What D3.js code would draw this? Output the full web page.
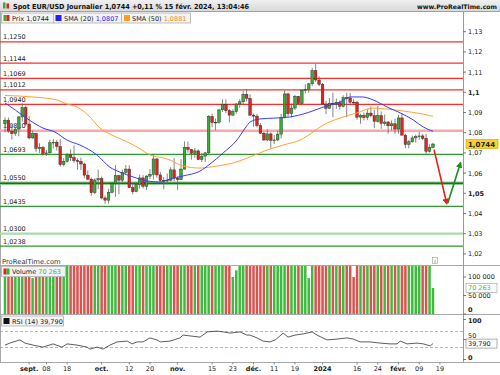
<!DOCTYPE html>
<html>
<head>
<meta charset="utf-8">
<script src="https://cdnjs.cloudflare.com/ajax/libs/d3/7.8.5/d3.min.js"></script>
<style>
html, body { margin: 0; padding: 0; background: #fff; }
svg { display: block; font-family: "DejaVu Sans", sans-serif; }
</style>
</head>
<body>
<div id="chart"></div>
<script>
var width = 500,
    height = 375,
    axis_x = 463;

// daily candles, 23 aug 2023 -> 15 feb 2024 (no 25/12, no 01/01)
var start_day = "2023-08-23",
    holidays = ["2023-12-25", "2024-01-01"];

var open = [1.0846,1.0862,1.0808,1.0796,1.0818,1.0878,1.0924,1.0843,1.0774,1.0796,
    1.0722,1.0726,1.0697,1.0700,1.0750,1.0753,1.0732,1.0642,1.0658,1.0690,
    1.0677,1.0662,1.0658,1.0645,1.0590,1.0570,1.0503,1.0566,1.0573,1.0477,
    1.0466,1.0505,1.0549,1.0587,1.0565,1.0604,1.0620,1.0528,1.0508,1.0544,
    1.0576,1.0535,1.0585,1.0594,1.0670,1.0591,1.0564,1.0563,1.0565,1.0616,
    1.0575,1.0568,1.0620,1.0727,1.0717,1.0698,1.0710,1.0667,1.0684,1.0700,
    1.0880,1.0850,1.0852,1.0913,1.0940,1.0909,1.0887,1.0904,1.0942,1.0953,
    1.0990,1.0970,1.0887,1.0882,1.0835,1.0797,1.0764,1.0794,1.0762,1.0764,
    1.0793,1.0876,1.0992,1.0895,1.0922,1.0980,1.0944,1.1010,1.1013,1.1042,
    1.1107,1.1061,1.1039,1.0942,1.0921,1.0946,1.0942,1.0950,1.0931,1.0973,
    1.0972,1.0951,1.0950,1.0877,1.0885,1.0875,1.0897,1.0884,1.0856,1.0884,
    1.0846,1.0853,1.0834,1.0844,1.0818,1.0873,1.0788,1.0742,1.0755,1.0774,
    1.0781,1.0784,1.0772,1.0708,1.0727];

var high = [1.0876,1.0875,1.0840,1.0830,1.0882,1.0945,1.0933,1.0882,1.0810,1.0800,
    1.0748,1.0735,1.0715,1.0767,1.0769,1.0765,1.0768,1.0674,1.0699,1.0718,
    1.0737,1.0673,1.0676,1.0652,1.0613,1.0578,1.0574,1.0617,1.0583,1.0489,
    1.0523,1.0555,1.0640,1.0592,1.0617,1.0640,1.0639,1.0547,1.0554,1.0592,
    1.0590,1.0590,1.0620,1.0695,1.0675,1.0606,1.0580,1.0598,1.0629,1.0675,
    1.0582,1.0669,1.0757,1.0756,1.0720,1.0724,1.0717,1.0700,1.0705,1.0887,
    1.0895,1.0870,1.0917,1.0965,1.0965,1.0917,1.0916,1.0947,1.0966,1.1007,
    1.1017,1.0990,1.0895,1.0893,1.0848,1.0805,1.0817,1.0802,1.0789,1.0812,
    1.0893,1.1009,1.0998,1.0945,1.0988,1.0982,1.1012,1.1040,1.1045,1.1121,
    1.1139,1.1079,1.1046,1.0958,1.0971,1.0998,1.0969,1.0960,1.0985,1.0998,
    1.0997,1.0967,1.0958,1.0894,1.0900,1.0915,1.0931,1.0915,1.0932,1.0905,
    1.0890,1.0858,1.0861,1.0870,1.0888,1.0897,1.0794,1.0765,1.0786,1.0791,
    1.0805,1.0793,1.0794,1.0742,1.0750];

var low = [1.0802,1.0800,1.0766,1.0784,1.0782,1.0855,1.0835,1.0767,1.0770,1.0705,
    1.0700,1.0686,1.0685,1.0698,1.0722,1.0712,1.0632,1.0633,1.0653,1.0660,
    1.0651,1.0616,1.0615,1.0575,1.0565,1.0488,1.0496,1.0520,1.0470,1.0448,
    1.0449,1.0500,1.0483,1.0495,1.0555,1.0594,1.0526,1.0495,1.0505,1.0523,
    1.0524,1.0517,1.0570,1.0568,1.0577,1.0555,1.0520,1.0545,1.0558,1.0560,
    1.0516,1.0566,1.0617,1.0701,1.0666,1.0676,1.0664,1.0655,1.0656,1.0695,
    1.0827,1.0812,1.0844,1.0903,1.0897,1.0851,1.0883,1.0894,1.0923,1.0938,
    1.0955,1.0884,1.0830,1.0826,1.0793,1.0760,1.0758,1.0723,1.0743,1.0758,
    1.0771,1.0870,1.0880,1.0877,1.0912,1.0941,1.0936,1.0995,1.0998,1.1030,
    1.1051,1.1030,1.0939,1.0892,1.0919,1.0877,1.0918,1.0915,1.0925,1.0876,
    1.0941,1.0938,1.0864,1.0844,1.0861,1.0862,1.0876,1.0822,1.0850,1.0819,
    1.0834,1.0795,1.0812,1.0794,1.0795,1.0787,1.0723,1.0722,1.0751,1.0751,
    1.0765,1.0763,1.0695,1.0701,1.0722];

var close = [1.0862,1.0808,1.0796,1.0818,1.0878,1.0924,1.0843,1.0774,1.0796,1.0722,
    1.0726,1.0697,1.0700,1.0750,1.0753,1.0732,1.0642,1.0658,1.0690,1.0677,
    1.0662,1.0658,1.0645,1.0590,1.0570,1.0503,1.0566,1.0573,1.0477,1.0466,
    1.0505,1.0549,1.0587,1.0565,1.0604,1.0620,1.0528,1.0508,1.0544,1.0576,
    1.0535,1.0585,1.0594,1.0670,1.0591,1.0564,1.0563,1.0565,1.0616,1.0575,
    1.0568,1.0620,1.0727,1.0717,1.0698,1.0710,1.0667,1.0684,1.0700,1.0880,
    1.0850,1.0852,1.0913,1.0940,1.0909,1.0887,1.0904,1.0942,1.0953,1.0990,
    1.0970,1.0887,1.0882,1.0835,1.0797,1.0764,1.0794,1.0762,1.0764,1.0793,
    1.0876,1.0992,1.0895,1.0922,1.0980,1.0944,1.1010,1.1013,1.1042,1.1107,
    1.1061,1.1039,1.0942,1.0921,1.0946,1.0942,1.0950,1.0931,1.0973,1.0972,
    1.0951,1.0950,1.0877,1.0885,1.0875,1.0897,1.0884,1.0856,1.0884,1.0846,
    1.0853,1.0834,1.0844,1.0818,1.0873,1.0788,1.0742,1.0755,1.0774,1.0781,
    1.0784,1.0772,1.0708,1.0727,1.0744];

// volume in thousands (most bars run past the top of the panel)
var volume = [172,181,165,158,176,188,195,190,97,184,
    170,176,162,168,171,166,205,183,160,158,
    172,177,168,170,182,195,187,178,190,193,
    186,181,210,171,168,162,189,176,164,170,
    174,180,169,177,186,172,175,168,171,183,
    178,192,199,173,167,170,166,171,160,214,
    190,177,185,173,179,171,100,118,166,174,
    180,186,175,170,174,169,172,188,163,167,
    180,203,192,171,169,163,175,152,97,160,
    174,168,189,182,176,190,168,170,173,181,
    169,100,178,174,171,175,168,172,176,170,
    183,167,171,176,185,193,174,165,170,168,
    172,166,188,171,70.263];

// moving averages and RSI: [day index, value]
var sma20 = [[0,1.0947],[3,1.0912],[7,1.0863],[11,1.0823],[14.5,1.0803],[18,1.0763],[21.7,1.0739],
    [26.7,1.0689],[30.4,1.0629],[33.3,1.0605],[37.1,1.0581],[41.2,1.0561],[44.9,1.0556],[47.8,1.0571],
    [51.6,1.0586],[56.5,1.0610],[59.4,1.0645],[63.2,1.0700],[67.2,1.0764],[69.6,1.0823],[71,1.0853],
    [73.9,1.0868],[78.8,1.0873],[82.6,1.0878],[87.5,1.0898],[92.2,1.0927],[97.1,1.0952],[100,1.0977],
    [103.5,1.0977],[106.7,1.0962],[110.7,1.0927],[114.5,1.0898],[118.3,1.0863],[121.2,1.0828],[124,1.0807]];

var sma50 = [[0,1.0984],[8.1,1.0977],[15,1.0962],[18,1.0942],[20.9,1.0927],[24.6,1.0878],[27.5,1.0823],
    [30.4,1.0793],[34.2,1.0764],[38.3,1.0729],[42,1.0690],[45.8,1.0675],[47.8,1.0665],[51.6,1.0635],
    [56.5,1.0625],[61.4,1.0635],[66.1,1.0650],[71,1.0680],[75.9,1.0714],[80.6,1.0739],[85.5,1.0764],
    [87.5,1.0783],[92.2,1.0838],[97.1,1.0873],[102,1.0898],[106.7,1.0922],[110.7,1.0917],[115.4,1.0907],
    [121.2,1.0892],[124,1.0881]];

var rsi = [[0,36],[1.4,41],[4.3,49],[5.8,41],[8.1,36],[11,31],[13.9,39],[16.5,31],[18,39],[20.9,36],
    [23.8,31],[24.6,26],[26.7,31],[28.4,26],[30.4,36],[32.5,44],[35.4,46],[36.8,39],[38.3,44],[40,44],
    [42,54],[44,49],[45,44],[47.8,46],[50.7,54],[51.6,61],[53.6,59],[56.5,56],[58.6,69],[61.4,71],
    [63.2,69],[65.2,66],[68.1,69],[70.1,61],[71,61],[73,54],[74.8,46],[76.8,44],[78.3,49],[80.6,66],
    [82,56],[84,61],[86.4,64],[89,69],[90.4,61],[93.3,49],[96.2,51],[99.1,54],[100.9,51],[102.9,44],
    [105.8,44],[108.7,41],[111.6,39],[113.6,39],[114.5,46],[116.5,39],[119.4,41],[121.2,39],[123.2,34],[124,39.79]];

// drawn support / resistance levels
var resistances = [1.1250, 1.1144, 1.1069, 1.1012, 1.0940],
    weak_resistances = [1.0810],
    supports = [1.0693, 1.0435, 1.0238],
    major_supports = [1.0550],
    weak_supports = [1.0300];

// scenario arrows: [day index, price]
var arrow_down = [[124.3, 1.0716], [128, 1.0448]],
    arrow_up = [[128.3, 1.0452], [132, 1.0652]];

var price_ticks = [1.02, 1.03, 1.04, 1.05, 1.06, 1.07, 1.08, 1.09, 1.10, 1.11, 1.12, 1.13],
    volume_ticks = [0, 50000, 100000],
    rsi_ticks = [0, 50, 100],
    rsi_bands = [30, 70];

var date_ticks = [
    ["2023-09-01", "sept.", true], ["2023-09-08", "08"], ["2023-09-18", "18"],
    ["2023-10-02", "oct.", true], ["2023-10-12", "12"], ["2023-10-20", "20"],
    ["2023-11-01", "nov.", true], ["2023-11-15", "15"], ["2023-11-23", "23"],
    ["2023-12-01", "déc.", true], ["2023-12-11", "11"], ["2023-12-19", "19"],
    ["2024-01-02", "2024", true], ["2024-01-16", "16"], ["2024-01-24", "24"],
    ["2024-02-01", "févr.", true], ["2024-02-09", "09"], ["2024-02-19", "19"]
];

var title = "Spot EUR/USD Journalier 1,0744 +0,11 % 15 févr. 2024, 13:04:46";

var red = "#e3221c", green = "#35b035";

var day_index = function (s) {
    var d = new Date(start_day + "T00:00:00Z"),
        end = new Date(s + "T00:00:00Z"),
        n = 0;
    while (d < end) {
        var iso = d.toISOString().slice(0, 10), wd = d.getUTCDay();
        if (wd != 0 && wd != 6 && holidays.indexOf(iso) < 0) n++;
        d.setUTCDate(d.getUTCDate() + 1);
    }
    return n;
};

var fr = function (v, dec) {
    return v.toFixed(dec).replace(".", ",");
};

var x = d3.scaleLinear().domain([0, close.length - 1]).range([5, 433]);
var y_price = d3.scaleLinear().domain([1.02, 1.13]).range([253.9, 31.7]);
var y_vol = d3.scaleLinear().domain([0, 100000]).range([314, 277]);
var y_rsi = d3.scaleLinear().domain([0, 100]).range([359.5, 319.5]);

var svg = d3.select("#chart").append("svg")
    .attr("width", width)
    .attr("height", height);

var defs = svg.append("defs");
var grad = defs.append("linearGradient").attr("id", "bar").attr("x1", 0).attr("x2", 0).attr("y1", 0).attr("y2", 1);
grad.append("stop").attr("offset", 0).attr("stop-color", "#f0f0f0");
grad.append("stop").attr("offset", 1).attr("stop-color", "#d9d9d9");

var clip = function (id, y0, y1) {
    defs.append("clipPath").attr("id", id).append("rect")
        .attr("x", 0).attr("y", y0).attr("width", axis_x).attr("height", y1 - y0);
};
clip("clip_price", 12, 265);
clip("clip_vol", 266, 314);
clip("clip_rsi", 315, 362);

[["red", red], ["green", "#1f8c1f"]].forEach(function (m) {
    defs.append("marker").attr("id", "head_" + m[0])
        .attr("viewBox", "0 0 10 10").attr("refX", 8).attr("refY", 5)
        .attr("markerWidth", 4).attr("markerHeight", 4).attr("orient", "auto")
        .append("path").attr("d", "M0,0L10,5L0,10z").style("fill", m[1]);
});

// title bar
svg.append("rect").attr("x", 0).attr("y", 0).attr("width", width).attr("height", 11).style("fill", "url(#bar)");
svg.append("line").attr("x1", 0).attr("x2", width).attr("y1", 11.5).attr("y2", 11.5).style("stroke", "#a0a0a0");
svg.append("rect").attr("x", 3).attr("y", 2.5).attr("width", 2.5).attr("height", 6).style("fill", green);
svg.append("rect").attr("x", 6.5).attr("y", 3.5).attr("width", 2.5).attr("height", 5).style("fill", red);
svg.append("text").attr("x", 13).attr("y", 8.5)
    .attr("font-size", 7).attr("font-weight", "bold").style("fill", "#111")
    .attr("textLength", 236).attr("lengthAdjust", "spacingAndGlyphs")
    .text(title);
svg.append("text").attr("x", 497).attr("y", 8.5).attr("text-anchor", "end")
    .attr("font-size", 6.2).attr("font-weight", "bold").style("fill", "#111")
    .text("www.ProRealTime.com");

// panel borders
[265.5, 314.5, 362.5].forEach(function (yy) {
    svg.append("line").attr("x1", 0).attr("x2", width).attr("y1", yy).attr("y2", yy).style("stroke", "#a8a8a8");
});
svg.append("line").attr("x1", 0.5).attr("x2", 0.5).attr("y1", 12).attr("y2", 362).style("stroke", "#a8a8a8");
svg.append("line").attr("x1", axis_x + 0.5).attr("x2", axis_x + 0.5).attr("y1", 12).attr("y2", 362).style("stroke", "#9a9a9a");

// price panel
var price = svg.append("g").attr("clip-path", "url(#clip_price)");

var draw_levels = function (list, color, w) {
    list.forEach(function (p) {
        price.append("line").attr("x1", 0).attr("x2", axis_x)
            .attr("y1", y_price(p)).attr("y2", y_price(p))
            .style("stroke", color).style("stroke-width", w);
        price.append("text").attr("x", 3).attr("y", y_price(p) - 2.5)
            .attr("font-size", 6.5).style("fill", "#1a1a1a")
            .text(fr(p, 4));
    });
};
draw_levels(resistances, "#ff2b2b", 1.2);
draw_levels(weak_resistances, "#f7a8a8", 2.5);
draw_levels(supports, "#2c9a2c", 1.2);
draw_levels(weak_supports, "#a9dca9", 2.2);
major_supports.forEach(function (p) {
    price.append("line").attr("x1", 0).attr("x2", axis_x)
        .attr("y1", y_price(p)).attr("y2", y_price(p))
        .style("stroke", "#8fcf8f").style("stroke-width", 3.4);
    price.append("line").attr("x1", 0).attr("x2", axis_x)
        .attr("y1", y_price(p)).attr("y2", y_price(p))
        .style("stroke", "#1d6f1d").style("stroke-width", 1.6);
    price.append("text").attr("x", 3).attr("y", y_price(p) - 3)
        .attr("font-size", 6.5).style("fill", "#1a1a1a")
        .text(fr(p, 4));
});

var candles = price.selectAll("g.candle")
    .data(close)
    .enter()
    .append("g")
    .attr("class", "candle");

candles.append("line")
    .attr("x1", function (d, i) { return x(i); })
    .attr("x2", function (d, i) { return x(i); })
    .attr("y1", function (d, i) { return y_price(high[i]); })
    .attr("y2", function (d, i) { return y_price(low[i]); })
    .style("stroke", "#666")
    .style("stroke-width", 0.8);

candles.append("rect")
    .attr("x", function (d, i) { return x(i) - 1.3; })
    .attr("width", 2.6)
    .attr("y", function (d, i) { return y_price(Math.max(open[i], d)); })
    .attr("height", function (d, i) { return Math.max(0.8, Math.abs(y_price(open[i]) - y_price(d))); })
    .style("fill", function (d, i) { return d >= open[i] ? green : red; })
    .style("stroke", "#2a2a2a")
    .style("stroke-width", 0.45);

var ma_line = d3.line()
    .x(function (d) { return x(d[0]); })
    .y(function (d) { return y_price(d[1]); })
    .curve(d3.curveMonotoneX);

price.append("path").attr("d", ma_line(sma50)).style("fill", "none").style("stroke", "#ffa133").style("stroke-width", 1);
price.append("path").attr("d", ma_line(sma20)).style("fill", "none").style("stroke", "#3a3aff").style("stroke-width", 1);

var arrow_line = function (pts) {
    return "M" + x(pts[0][0]) + "," + y_price(pts[0][1]) + "L" + x(pts[1][0]) + "," + y_price(pts[1][1]);
};
svg.append("path").attr("d", arrow_line(arrow_down))
    .style("stroke", red).style("stroke-width", 1.6).attr("marker-end", "url(#head_red)");
svg.append("path").attr("d", arrow_line(arrow_up))
    .style("stroke", "#1f8c1f").style("stroke-width", 1.6).attr("marker-end", "url(#head_green)");

svg.append("text").attr("x", 2).attr("y", 263.5)
    .attr("font-size", 6.8).style("fill", "#333")
    .text("ProRealTime.com");
svg.append("rect").attr("x", 432.5).attr("y", 257.5).attr("width", 5).attr("height", 6)
    .style("fill", "#fafafa").style("stroke", "#999").style("stroke-width", 0.6);
svg.append("text").attr("x", 435).attr("y", 262.8).attr("text-anchor", "middle")
    .attr("font-size", 5).style("fill", "#555").text("i");

// legend boxes
var legend_box = function (x0, y0, w) {
    svg.append("rect").attr("x", x0 + 0.5).attr("y", y0 + 0.5).attr("width", w).attr("height", 10)
        .style("fill", "#f3f3f3").style("stroke", "#bdbdbd");
};
var legend_text = function (x0, y0, parts) {
    var t = svg.append("text").attr("x", x0).attr("y", y0).attr("font-size", 6.5);
    parts.forEach(function (p) {
        t.append("tspan").style("fill", p[1]).text(p[0]);
    });
};
legend_box(1, 12.5, 52);
svg.append("rect").attr("x", 3.5).attr("y", 15).attr("width", 3).attr("height", 6).style("fill", green);
svg.append("rect").attr("x", 6.5).attr("y", 15).attr("width", 3).attr("height", 6).style("fill", red);
legend_text(12, 20.5, [["Prix ", "#222"], [fr(close[close.length - 1], 4), "#222"]]);
legend_box(53, 12.5, 68);
svg.append("rect").attr("x", 55.5).attr("y", 15).attr("width", 6).attr("height", 6).style("fill", "#2020ff");
legend_text(64, 20.5, [["SMA (20) ", "#222"], [fr(sma20[sma20.length - 1][1], 4), "#2020ff"]]);
legend_box(121, 12.5, 69);
svg.append("rect").attr("x", 124).attr("y", 15).attr("width", 6).attr("height", 6).style("fill", "#ff9d2a");
legend_text(132, 20.5, [["SMA (50) ", "#222"], [fr(sma50[sma50.length - 1][1], 4), "#f08a10"]]);

// price axis
price_ticks.forEach(function (t) {
    var yy = y_price(t);
    svg.append("line").attr("x1", axis_x).attr("x2", axis_x + 3).attr("y1", yy).attr("y2", yy).style("stroke", "#777");
    svg.append("text").attr("x", 468).attr("y", yy + 2.4)
        .attr("font-size", 6.5)
        .attr("font-weight", Math.abs(t * 20 - Math.round(t * 20)) < 1e-6 ? "bold" : "normal")
        .style("fill", "#222")
        .text(String(+t.toFixed(2)).replace(".", ","));
});
var last = close[close.length - 1];
svg.append("rect").attr("x", 466).attr("y", y_price(last) - 4.5).attr("width", 32).attr("height", 9)
    .style("fill", "#f8d327").style("stroke", "#c9a400").style("stroke-width", 0.6);
svg.append("text").attr("x", 468).attr("y", y_price(last) + 2.6)
    .attr("font-size", 7).attr("font-weight", "bold").style("fill", "#222")
    .text(fr(last, 4));

// volume panel
var vol = svg.append("g").attr("clip-path", "url(#clip_vol)");
vol.selectAll("rect")
    .data(volume)
    .enter()
    .append("rect")
    .attr("x", function (d, i) { return x(i) - 1.25; })
    .attr("width", 2.5)
    .attr("y", function (d) { return y_vol(d * 1000); })
    .attr("height", function (d) { return y_vol(0) - y_vol(d * 1000); })
    .style("fill", function (d, i) { return close[i] >= open[i] ? "#3cbc3c" : "#d9534f"; });

legend_box(1, 266, 64);
svg.append("rect").attr("x", 3.5).attr("y", 268.5).attr("width", 3).attr("height", 6).style("fill", red);
svg.append("rect").attr("x", 6.5).attr("y", 268.5).attr("width", 3).attr("height", 6).style("fill", green);
legend_text(12, 274, [["Volume ", "#222"], ["70 263", "#3cbc3c"]]);

volume_ticks.forEach(function (t) {
    var yy = Math.min(y_vol(t), 309.5);
    svg.append("line").attr("x1", axis_x).attr("x2", axis_x + 3).attr("y1", y_vol(t)).attr("y2", y_vol(t)).style("stroke", "#777");
    svg.append("text").attr("x", 468).attr("y", yy + 2.4)
        .attr("font-size", 6.5).attr("font-weight", t == 0 ? "bold" : "normal").style("fill", "#222")
        .text(d3.format(",")(t).replace(/,/g, " "));
});
var last_vol = volume[volume.length - 1] * 1000;
svg.append("rect").attr("x", 466).attr("y", y_vol(last_vol) - 4.5).attr("width", 31).attr("height", 9)
    .style("fill", "#fff").style("stroke", "#999").style("stroke-width", 0.6);
svg.append("text").attr("x", 468).attr("y", y_vol(last_vol) + 2.4)
    .attr("font-size", 6.5).style("fill", "#3cbc3c")
    .text(d3.format(",")(Math.round(last_vol)).replace(/,/g, " "));

// rsi panel
var rsi_g = svg.append("g").attr("clip-path", "url(#clip_rsi)");
rsi_bands.forEach(function (b) {
    rsi_g.append("line").attr("x1", 0).attr("x2", axis_x)
        .attr("y1", y_rsi(b)).attr("y2", y_rsi(b))
        .style("stroke", "#999").style("stroke-dasharray", "3,2").style("stroke-width", 0.7);
});
rsi_g.append("path")
    .attr("d", d3.line().x(function (d) { return x(d[0]); }).y(function (d) { return y_rsi(d[1]); })(rsi))
    .style("fill", "none").style("stroke", "#333").style("stroke-width", 0.8);

legend_box(1, 315.5, 62);
svg.append("rect").attr("x", 3.5).attr("y", 318).attr("width", 6).attr("height", 6).style("fill", "#111");
legend_text(12, 323.5, [["RSI (14) " + fr(rsi[rsi.length - 1][1], 3), "#222"]]);

var last_rsi = rsi[rsi.length - 1][1];
rsi_ticks.forEach(function (t) {
    var yy = y_rsi(t), ty = Math.max(Math.min(yy, 357.5), 321);
    // the 50 label sits just above the last-value tag
    if (t == 50) ty = Math.min(ty, y_rsi(last_rsi) - 8);
    svg.append("line").attr("x1", axis_x).attr("x2", axis_x + 3).attr("y1", yy).attr("y2", yy).style("stroke", "#777");
    svg.append("text").attr("x", 468).attr("y", ty + 2.4)
        .attr("font-size", 6.5).attr("font-weight", t == 50 ? "normal" : "bold").style("fill", "#222")
        .text(t);
});
svg.append("rect").attr("x", 466).attr("y", y_rsi(last_rsi) - 4.5).attr("width", 31).attr("height", 9)
    .style("fill", "#fff").style("stroke", "#777").style("stroke-width", 0.6);
svg.append("text").attr("x", 468).attr("y", y_rsi(last_rsi) + 2.4)
    .attr("font-size", 6.5).style("fill", "#222")
    .text(fr(last_rsi, 3));

// time axis
date_ticks.forEach(function (t) {
    var xx = x(day_index(t[0]));
    svg.append("line").attr("x1", xx).attr("x2", xx).attr("y1", 362).attr("y2", 364.5).style("stroke", "#888");
    svg.append("text").attr("x", xx).attr("y", 371)
        .attr("text-anchor", "middle")
        .attr("font-size", 6.5)
        .attr("font-weight", t[2] ? "bold" : "normal")
        .style("fill", "#222")
        .text(t[1]);
});
</script>
</body>
</html>
